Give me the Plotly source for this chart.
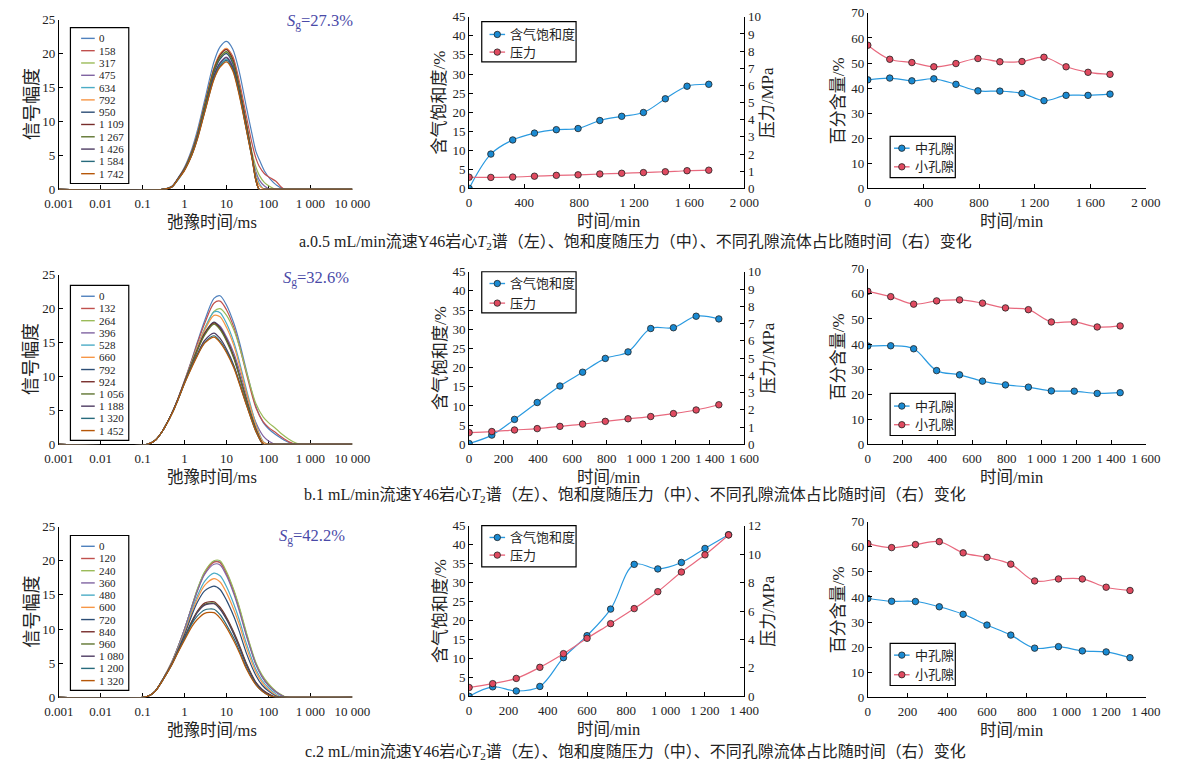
import plotly.graph_objects as go

# ---------------- data ----------------
T2_GRID_A = [0.001, 0.3, 0.5, 0.7, 1, 1.5, 2, 3, 5, 7, 10, 14, 20, 30, 40, 50, 60, 80, 110, 150, 240, 10000]
T2_LABELS_A = ["0", "158", "317", "475", "634", "792", "950", "1 109", "1 267", "1 426", "1 584", "1 742"]
T2_AMP_A = [
    [0, 0, 0.5, 1.7, 3.3, 6.0, 8.6, 13.1, 18.8, 21.0, 21.8, 20.7, 17.4, 12.0, 8.3, 5.6, 4.4, 2.7, 1.5, 0.7, 0, 0],
    [0, 0, 0.4, 1.6, 3.1, 5.7, 8.1, 12.4, 17.8, 19.9, 20.7, 19.6, 16.0, 10.6, 6.9, 4.6, 3.4, 2.3, 1.7, 1.2, 0, 0],
    [0, 0, 0.4, 1.5, 3.0, 5.5, 7.9, 12.1, 17.4, 19.4, 20.2, 19.0, 15.2, 9.6, 5.6, 3.3, 2.1, 1.0, 0.4, 0, 0, 0],
    [0, 0, 0.4, 1.5, 2.9, 5.3, 7.6, 11.7, 16.8, 18.7, 19.5, 18.2, 14.5, 8.9, 5.0, 2.6, 1.4, 0.5, 0, 0, 0, 0],
    [0, 0, 0.4, 1.4, 2.9, 5.2, 7.5, 11.5, 16.5, 18.4, 19.2, 17.9, 14.2, 8.7, 4.8, 2.2, 0.9, 0, 0, 0, 0, 0],
    [0, 0, 0.4, 1.6, 3.1, 5.6, 8.1, 12.5, 17.9, 20.0, 20.8, 19.3, 15.4, 9.6, 5.2, 1.9, 0.6, 0, 0, 0, 0, 0],
    [0, 0, 0.4, 1.6, 3.0, 5.4, 7.8, 12.0, 17.2, 19.2, 20.0, 18.6, 14.8, 9.2, 5.0, 1.4, 0, 0, 0, 0, 0, 0],
    [0, 0, 0.4, 1.6, 3.1, 5.6, 8.0, 12.4, 17.7, 19.8, 20.6, 19.2, 15.2, 9.5, 5.2, 1.4, 0, 0, 0, 0, 0, 0],
    [0, 0, 0.4, 1.6, 3.0, 5.5, 7.9, 12.2, 17.5, 19.5, 20.3, 18.9, 15.0, 9.3, 5.1, 1.4, 0, 0, 0, 0, 0, 0],
    [0, 0, 0.4, 1.6, 2.9, 5.2, 7.6, 11.6, 16.7, 18.6, 19.4, 18.0, 14.4, 8.9, 4.9, 1.4, 0, 0, 0, 0, 0, 0],
    [0, 0, 0.4, 1.5, 2.9, 5.1, 7.4, 11.4, 16.3, 18.2, 19.0, 17.7, 14.1, 8.7, 4.8, 1.3, 0, 0, 0, 0, 0, 0],
    [0, 0, 0.4, 1.5, 2.8, 5.1, 7.3, 11.3, 16.2, 18.0, 18.8, 17.5, 13.9, 8.6, 4.7, 1.3, 0, 0, 0, 0, 0, 0],
]

T2_GRID_B = [0.001, 0.13, 0.2, 0.3, 0.5, 0.7, 1, 1.5, 2, 3, 5, 7, 10, 15, 20, 30, 50, 75, 100, 150, 200, 300, 450, 600, 10000]
T2_LABELS_B = ["0", "132", "264", "396", "528", "660", "792", "924", "1 056", "1 188", "1 320", "1 452"]
T2_AMP_B = [
    [0, 0, 0.6, 2.0, 4.6, 6.8, 9.4, 12.6, 15.0, 18.2, 21.5, 21.9, 20.5, 17.8, 15.2, 10.8, 5.6, 3.2, 2.3, 1.4, 0.9, 0.3, 0, 0, 0],
    [0, 0, 0.6, 2.0, 4.6, 6.8, 9.4, 12.5, 14.8, 17.8, 20.8, 21.1, 19.8, 17.2, 14.6, 10.3, 5.4, 3.3, 2.5, 1.7, 1.1, 0.4, 0, 0, 0],
    [0, 0, 0.6, 2.0, 4.6, 6.7, 9.2, 12.2, 14.3, 17.0, 19.6, 20.0, 19.0, 16.8, 14.5, 10.6, 6.0, 4.0, 3.2, 2.3, 1.6, 0.8, 0.2, 0, 0],
    [0, 0, 0.6, 2.0, 4.6, 6.7, 9.2, 12.0, 13.9, 16.3, 17.9, 17.4, 15.8, 13.4, 11.0, 7.3, 3.2, 1.2, 0.5, 0, 0, 0, 0, 0, 0],
    [0, 0, 0.6, 2.0, 4.6, 6.7, 9.2, 12.2, 14.3, 17.0, 19.5, 19.4, 17.8, 15.0, 12.3, 8.0, 3.0, 0.4, 0, 0, 0, 0, 0, 0, 0],
    [0, 0, 0.6, 2.0, 4.6, 6.7, 9.2, 12.1, 14.2, 16.8, 19.0, 18.8, 17.2, 14.5, 11.8, 7.6, 2.8, 0.3, 0, 0, 0, 0, 0, 0, 0],
    [0, 0, 0.6, 2.0, 4.6, 6.7, 9.2, 12.0, 13.9, 16.4, 18.0, 17.2, 15.5, 12.9, 10.3, 6.6, 2.3, 0, 0, 0, 0, 0, 0, 0, 0],
    [0, 0, 0.6, 2.0, 4.6, 6.7, 9.2, 12.0, 13.9, 16.3, 17.9, 17.1, 15.4, 12.8, 10.2, 6.5, 2.2, 0, 0, 0, 0, 0, 0, 0, 0],
    [0, 0, 0.6, 2.0, 4.6, 6.7, 9.2, 11.9, 13.8, 16.1, 17.7, 16.9, 15.2, 12.6, 10.1, 6.4, 2.2, 0, 0, 0, 0, 0, 0, 0, 0],
    [0, 0, 0.6, 2.0, 4.6, 6.7, 9.1, 11.6, 13.3, 15.3, 16.4, 15.6, 14.0, 11.6, 9.3, 5.9, 2.0, 0, 0, 0, 0, 0, 0, 0, 0],
    [0, 0, 0.6, 2.0, 4.5, 6.6, 9.0, 11.5, 13.1, 15.0, 16.0, 15.2, 13.7, 11.4, 9.1, 5.8, 1.9, 0, 0, 0, 0, 0, 0, 0, 0],
    [0, 0, 0.6, 2.0, 4.5, 6.6, 9.0, 11.4, 13.0, 14.9, 15.8, 15.0, 13.5, 11.2, 9.0, 5.7, 1.9, 0, 0, 0, 0, 0, 0, 0, 0],
]

T2_GRID_C = [0.001, 0.1, 0.15, 0.2, 0.3, 0.5, 0.7, 1, 1.5, 2, 3, 5, 7, 10, 15, 20, 30, 50, 70, 100, 150, 200, 270, 10000]
T2_LABELS_C = ["0", "120", "240", "360", "480", "600", "720", "840", "960", "1 080", "1 200", "1 320"]
T2_AMP_C = [
    [0, 0, 0.3, 0.9, 2.6, 5.2, 7.4, 10.0, 13.4, 15.7, 18.3, 19.9, 19.8, 18.2, 15.5, 13.1, 9.2, 4.9, 3.1, 1.8, 0.8, 0.3, 0, 0],
    [0, 0, 0.3, 0.9, 2.6, 5.2, 7.4, 10.0, 13.3, 15.6, 18.2, 19.8, 19.7, 18.1, 15.4, 13.0, 9.1, 4.9, 3.1, 1.8, 0.8, 0.3, 0, 0],
    [0, 0, 0.3, 0.9, 2.6, 5.2, 7.4, 10.0, 13.4, 15.8, 18.4, 20.0, 20.0, 18.4, 15.7, 13.3, 9.4, 5.1, 3.3, 2.0, 0.9, 0.4, 0, 0],
    [0, 0, 0.3, 0.9, 2.6, 5.2, 7.4, 10.0, 13.3, 15.5, 18.0, 19.5, 19.4, 17.8, 15.1, 12.7, 8.9, 4.8, 3.0, 1.7, 0.8, 0.3, 0, 0],
    [0, 0, 0.3, 0.9, 2.6, 5.1, 7.2, 9.6, 12.8, 14.8, 17.0, 18.2, 17.8, 16.2, 13.6, 11.4, 7.8, 4.1, 2.5, 1.4, 0.5, 0.1, 0, 0],
    [0, 0, 0.3, 0.9, 2.6, 5.1, 7.1, 9.5, 12.5, 14.4, 16.4, 17.4, 16.9, 15.3, 12.8, 10.7, 7.2, 3.7, 2.2, 1.1, 0.3, 0, 0, 0],
    [0, 0, 0.3, 0.9, 2.6, 5.0, 7.0, 9.2, 12.1, 13.9, 15.6, 16.3, 15.8, 14.2, 11.8, 9.7, 6.4, 3.2, 1.8, 0.9, 0.2, 0, 0, 0],
    [0, 0, 0.3, 0.9, 2.5, 4.9, 6.8, 8.8, 11.2, 12.6, 13.8, 14.0, 13.2, 11.7, 9.5, 7.7, 4.9, 2.2, 1.2, 0.5, 0, 0, 0, 0],
    [0, 0, 0.3, 0.9, 2.5, 4.9, 6.8, 8.7, 11.1, 12.5, 13.6, 13.8, 13.0, 11.5, 9.3, 7.5, 4.8, 2.1, 1.1, 0.4, 0, 0, 0, 0],
    [0, 0, 0.3, 0.9, 2.5, 4.9, 6.8, 8.7, 11.0, 12.4, 13.5, 13.7, 12.9, 11.4, 9.2, 7.4, 4.7, 2.1, 1.1, 0.4, 0, 0, 0, 0],
    [0, 0, 0.3, 0.9, 2.5, 4.8, 6.7, 8.6, 10.8, 11.9, 12.8, 12.9, 12.1, 10.6, 8.6, 6.9, 4.3, 1.9, 0.9, 0.3, 0, 0, 0, 0],
    [0, 0, 0.3, 0.9, 2.5, 4.8, 6.6, 8.4, 10.4, 11.4, 12.3, 12.4, 11.6, 10.2, 8.2, 6.6, 4.1, 1.8, 0.9, 0.3, 0, 0, 0, 0],
]

T2_COLORS = ["#4F81BD", "#C0504D", "#9BBB59", "#8064A2", "#4BACC6", "#F79646",
             "#2C4D75", "#772C2A", "#5F7530", "#4D3B62", "#276A7C", "#B65708"]

SG_TEXT = ["27.3%", "32.6%", "42.2%"]

TIME_A = [0, 158, 317, 475, 634, 792, 950, 1109, 1267, 1426, 1584, 1742]
SG_A = [0, 9.0, 12.7, 14.5, 15.4, 15.7, 17.8, 18.9, 19.9, 23.5, 26.8, 27.3]
P_A = [0.65, 0.64, 0.66, 0.71, 0.76, 0.79, 0.84, 0.88, 0.92, 0.97, 1.03, 1.06]
MID_A = [43.3, 44.0, 42.9, 43.7, 41.5, 38.9, 38.8, 37.9, 35.0, 37.1, 37.1, 37.6]
SMALL_A = [57.1, 51.5, 50.2, 48.5, 49.8, 51.8, 50.5, 50.6, 52.3, 48.5, 46.3, 45.5]

TIME_B = [0, 132, 264, 396, 528, 660, 792, 924, 1056, 1188, 1320, 1452]
SG_B = [0.2, 2.4, 6.5, 10.9, 15.2, 18.8, 22.4, 24.1, 30.2, 30.4, 33.4, 32.7]
P_B = [0.68, 0.74, 0.83, 0.91, 1.04, 1.17, 1.33, 1.48, 1.61, 1.78, 1.99, 2.29]
MID_B = [39.2, 39.3, 38.1, 29.4, 27.7, 25.2, 23.7, 22.8, 21.3, 21.2, 20.3, 20.6]
SMALL_B = [61.0, 58.9, 55.9, 57.2, 57.6, 56.3, 54.4, 53.7, 48.8, 48.8, 46.8, 47.2]

TIME_C = [0, 120, 240, 360, 480, 600, 720, 840, 960, 1080, 1200, 1320]
SG_C = [0, 2.5, 1.4, 2.6, 10.2, 16.0, 23.0, 34.8, 33.6, 35.3, 39.0, 42.6]
P_C = [0.62, 0.89, 1.26, 2.04, 3.0, 4.08, 5.11, 6.17, 7.36, 8.74, 9.95, 11.35]
MID_C = [39.4, 38.3, 38.2, 36.1, 33.1, 28.8, 24.8, 19.6, 20.2, 18.5, 18.1, 15.8]
SMALL_C = [61.3, 59.7, 60.9, 62.1, 57.6, 55.8, 53.1, 46.4, 47.2, 47.2, 43.9, 42.6]

CAPTIONS = [
    "a.0.5 mL/min流速Y46岩心<i>T</i><sub>2</sub>谱（左）、饱和度随压力（中）、不同孔隙流体占比随时间（右）变化",
    "b.1 mL/min流速Y46岩心<i>T</i><sub>2</sub>谱（左）、饱和度随压力（中）、不同孔隙流体占比随时间（右）变化",
    "c.2 mL/min流速Y46岩心<i>T</i><sub>2</sub>谱（左）、饱和度随压力（中）、不同孔隙流体占比随时间（右）变化",
]

# ---------------- layout helpers ----------------
W, H = 1195, 770
FONT = "Liberation Serif, Times New Roman, Noto Sans CJK SC, serif"
BLUE_L, BLUE_M = "#2A9AE0", "#1A8AD2"
RED_L, RED_M = "#E8697E", "#E04A60"


def px(x):
    return x / W


def py(y):
    return 1 - y / H


fig = go.Figure()
layout = dict(
    width=W, height=H, margin=dict(l=0, r=0, t=0, b=0),
    paper_bgcolor="white", plot_bgcolor="white", showlegend=False,
    separators=". ", font=dict(family=FONT, size=13, color="#222"),
)
shapes, annotations = [], []

AX = dict(showline=True, linecolor="black", linewidth=1, ticks="inside", ticklen=4,
          tickcolor="black", showgrid=False, zeroline=False,
          tickfont=dict(family=FONT, size=13, color="#222"))
XAX = dict(AX, ticklabelstandoff=2)
YAX = dict(AX)


def ann(text, x, y, size=16, angle=0, xanchor="center", yanchor="middle", color="#222"):
    annotations.append(dict(text=text, x=px(x), y=py(y), xref="paper", yref="paper",
                            showarrow=False, xanchor=xanchor, yanchor=yanchor, borderpad=0,
                            textangle=angle, font=dict(family=FONT, size=size, color=color)))


def box(x0, y0, x1, y1):
    shapes.append(dict(type="rect", xref="paper", yref="paper", x0=px(x0), x1=px(x1),
                       y0=py(y1), y1=py(y0), line=dict(color="black", width=1.2),
                       fillcolor="white", layer="above"))


def leg_line(x0, x1, y, color, marker=None):
    shapes.append(dict(type="line", xref="paper", yref="paper", x0=px(x0), x1=px(x1),
                       y0=py(y), y1=py(y), line=dict(color=color, width=1.4), layer="above"))
    if marker:
        xc = (x0 + x1) / 2
        shapes.append(dict(type="circle", xref="paper", yref="paper", xsizemode="pixel",
                           ysizemode="pixel", xanchor=px(xc), yanchor=py(y),
                           x0=-3.2, x1=3.2, y0=-3.2, y1=3.2, fillcolor=marker,
                           line=dict(color="#222", width=0.8), layer="above"))


ROWS = [
    dict(t2x=T2_GRID_A, t2y=T2_AMP_A, lab=T2_LABELS_A, time=TIME_A, sg=SG_A, p=P_A, mid=MID_A, small=SMALL_A,
         xmax=2000, dt=400, pmax=10, pdt=1,
         left=(13, 186), midy=(10, 185), righty=(6, 185), leg0=32, legbox=(21, 180),
         mleg=(15, 56, 28, 46), rleg=(132, 174, 144, 163), sgpos=(314, 15), cap=240),
    dict(t2x=T2_GRID_B, t2y=T2_AMP_B, lab=T2_LABELS_B, time=TIME_B, sg=SG_B, p=P_B, mid=MID_B, small=SMALL_B,
         xmax=1600, dt=200, pmax=10, pdt=1,
         left=(273, 446), midy=(270, 446), righty=(267, 446), leg0=295, legbox=(284, 442),
         mleg=(270, 312, 282, 302), rleg=(394, 437, 407, 426), sgpos=(310, 277), cap=498),
    dict(t2x=T2_GRID_C, t2y=T2_AMP_C, lab=T2_LABELS_C, time=TIME_C, sg=SG_C, p=P_C, mid=MID_C, small=SMALL_C,
         xmax=1400, dt=200, pmax=12, pdt=2,
         left=(530, 704), midy=(529, 703), righty=(525, 704), leg0=550, legbox=(539, 697),
         mleg=(529, 571, 541, 559), rleg=(649, 692, 661, 681), sgpos=(305, 540), cap=760),
]

MK = 6.5
TSZ = 16.5

for r, R in enumerate(ROWS):
    xa1, xa2, xa3 = 3 * r + 1, 3 * r + 2, 3 * r + 3
    ya1, ya2, ya3, ya4 = 4 * r + 1, 4 * r + 2, 4 * r + 3, 4 * r + 4
    k = lambda n: "" if n == 1 else str(n)

    # ---- T2 spectra ----
    for i, amp in enumerate(R["t2y"]):
        fig.add_trace(go.Scatter(x=R["t2x"], y=amp, mode="lines",
                                 line=dict(color=T2_COLORS[i], width=1.2, shape="spline", smoothing=0.8),
                                 xaxis="x" + k(xa1), yaxis="y" + k(ya1)))
    t0, t1 = R["left"]
    layout["xaxis" + k(xa1)] = dict(XAX, type="log", range=[-3, 4], domain=[px(45), px(347)],
                                    anchor="y" + k(ya1), layer="below traces",
                                    tickvals=[0.001, 0.01, 0.1, 1, 10, 100, 1000, 10000],
                                    ticktext=["0.001", "0.01", "0.1", "1", "10", "100", "1 000", "10 000"])
    layout["yaxis" + k(ya1)] = dict(YAX, range=[0, 25], dtick=5, domain=[py(t1), py(t0)],
                                    anchor="x" + k(xa1))
    ann("信号幅度", 17, (t0 + t1) / 2, size=18, angle=-90)
    ann("弛豫时间/ms", 203, t1 + 34, size=TSZ)
    sx, sy = R["sgpos"]
    ann("<i>S</i><sub>g</sub>=" + SG_TEXT[r], sx, sy, size=16.5, color="#4A4AA8")
    b0, b1 = R["legbox"]
    box(57, b0, 117, b1)
    for i, lab in enumerate(R["lab"]):
        yy = R["leg0"] + i * (b1 - b0 - 21) / 11
        leg_line(68, 82, yy, T2_COLORS[i])
        ann(lab, 85, yy, size=11, xanchor="left")

    # ---- saturation & pressure ----
    m0, m1 = R["midy"]
    fig.add_trace(go.Scatter(x=R["time"], y=R["sg"], mode="lines+markers",
                             line=dict(color=BLUE_L, width=1.2, shape="spline", smoothing=1),
                             marker=dict(size=MK, color=BLUE_M, line=dict(color="#222", width=0.8)),
                             xaxis="x" + k(xa2), yaxis="y" + k(ya2)))
    fig.add_trace(go.Scatter(x=R["time"], y=R["p"], mode="lines+markers",
                             line=dict(color=RED_L, width=1.2, shape="spline", smoothing=1),
                             marker=dict(size=MK, color=RED_M, line=dict(color="#222", width=0.8)),
                             xaxis="x" + k(xa2), yaxis="y" + k(ya3)))
    layout["xaxis" + k(xa2)] = dict(XAX, range=[0, R["xmax"]], dtick=R["dt"], domain=[px(467), px(750)],
                                    anchor="y" + k(ya2), separatethousands=True)
    layout["yaxis" + k(ya2)] = dict(YAX, range=[0, 45], dtick=5, domain=[py(m1), py(m0)],
                                    anchor="x" + k(xa2))
    layout["yaxis" + k(ya3)] = dict(YAX, range=[0, R["pmax"]], dtick=R["pdt"], overlaying="y" + k(ya2),
                                    side="right", anchor="x" + k(xa2))
    ann("含气饱和度/%", 437, (m0 + m1) / 2, size=17, angle=-90)
    ann("压力/MPa", 774, (m0 + m1) / 2, size=17, angle=-90)
    ann("时间/min", 610, m1 + 34, size=TSZ)
    l0, l1, i0, i1 = R["mleg"]
    box(480, l0, 577, l1)
    leg_line(488, 504, i0, BLUE_L, BLUE_M)
    leg_line(488, 504, i1, RED_L, RED_M)
    ann("含气饱和度", 508, i0, size=13, xanchor="left")
    ann("压力", 508, i1, size=13, xanchor="left")

    # ---- pore fractions ----
    q0, q1 = R["righty"]
    fig.add_trace(go.Scatter(x=R["time"], y=R["mid"], mode="lines+markers",
                             line=dict(color=BLUE_L, width=1.2, shape="spline", smoothing=1),
                             marker=dict(size=MK, color=BLUE_M, line=dict(color="#222", width=0.8)),
                             xaxis="x" + k(xa3), yaxis="y" + k(ya4)))
    fig.add_trace(go.Scatter(x=R["time"], y=R["small"], mode="lines+markers",
                             line=dict(color=RED_L, width=1.2, shape="spline", smoothing=1),
                             marker=dict(size=MK, color=RED_M, line=dict(color="#222", width=0.8)),
                             xaxis="x" + k(xa3), yaxis="y" + k(ya4)))
    layout["xaxis" + k(xa3)] = dict(XAX, range=[0, R["xmax"]], dtick=R["dt"], domain=[px(877), px(1163)],
                                    anchor="y" + k(ya4), separatethousands=True)
    layout["yaxis" + k(ya4)] = dict(YAX, range=[0, 70], dtick=10, domain=[py(q1), py(q0)],
                                    anchor="x" + k(xa3))
    ann("百分含量/%", 847, (q0 + q1) / 2, size=17, angle=-90)
    ann("时间/min", 1025, q1 + 34, size=TSZ)
    l0, l1, i0, i1 = R["rleg"]
    box(900, l0, 967, l1)
    leg_line(904, 920, i0, BLUE_L, BLUE_M)
    leg_line(904, 920, i1, RED_L, RED_M)
    ann("中孔隙", 925, i0, size=13, xanchor="left")
    ann("小孔隙", 925, i1, size=13, xanchor="left")

    ann(CAPTIONS[r], 638, R["cap"], size=16)

layout["shapes"] = shapes
layout["annotations"] = annotations
fig.update_layout(**layout)
fig.write_html("out.html")
